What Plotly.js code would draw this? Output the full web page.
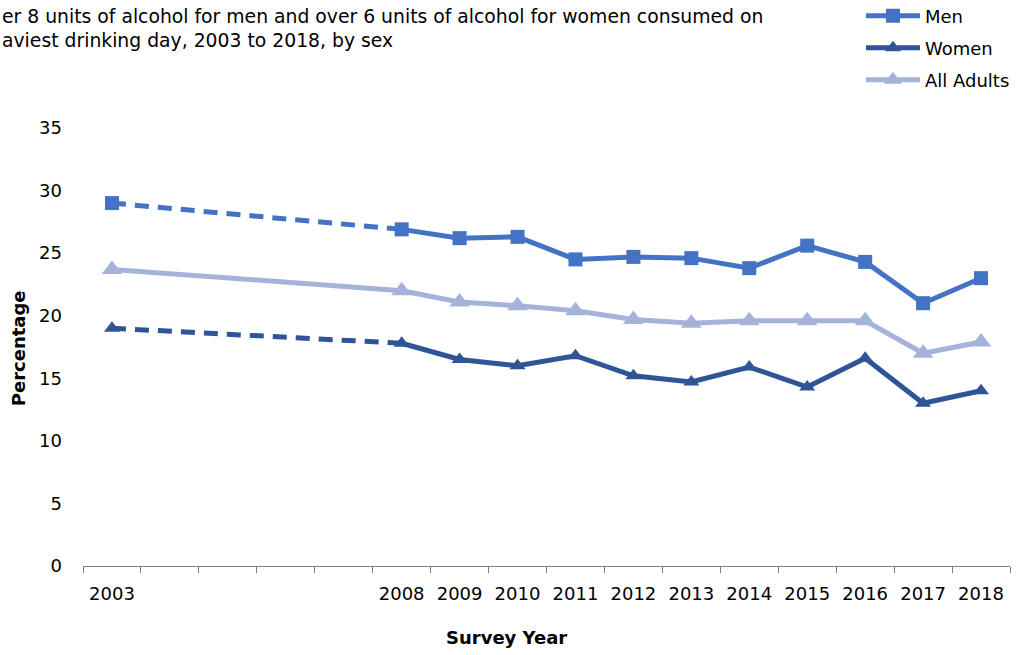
<!DOCTYPE html>
<html>
<head>
<meta charset="utf-8">
<script src="https://cdn.plot.ly/plotly-3.0.1.min.js"></script>
<style>html,body{margin:0;padding:0;background:#fff;}#chart{width:1023px;height:655px;}</style>
</head>
<body>
<div id="chart"></div>
<script>
const years = ['2003','2004','2005','2006','2007','2008','2009','2010','2011','2012','2013','2014','2015','2016','2017','2018'];
const tickLabels = ['2003','','','','','2008','2009','2010','2011','2012','2013','2014','2015','2016','2017','2018'];
const men    = [29.0, null, null, null, null, 26.9, 26.2, 26.3, 24.5, 24.7, 24.6, 23.8, 25.6, 24.3, 21.0, 23.0];
const women  = [19.0, null, null, null, null, 17.8, 16.5, 16.0, 16.8, 15.2, 14.7, 15.9, 14.3, 16.6, 13.0, 14.0];
const adults = [23.7, null, null, null, null, 22.0, 21.1, 20.8, 20.4, 19.7, 19.4, 19.6, 19.6, 19.6, 17.0, 17.9];
const seriesNames = ['Men', 'Women', 'All Adults'];
const titleLines = ['er 8 units of alcohol for men and over 6 units of alcohol for women consumed on', 'aviest drinking day, 2003 to 2018, by sex'];

const cMen = '#4472C4', cWomen = '#2F5597', cAll = '#A5B3DB';
const FONT = 'DejaVu Sans, Verdana, sans-serif';

function part(arr, from, to) {
  const xs = [], ys = [];
  for (let i = from; i <= to; i++) { if (arr[i] !== null) { xs.push(years[i]); ys.push(arr[i]); } }
  return {x: xs, y: ys};
}
const i2008 = years.indexOf('2008');
const last = years.length - 1;

const traces = [];
function addSeries(arr, name, color, symbol, msize, dashedGap, group) {
  if (dashedGap) {
    const d = part(arr, 0, i2008);
    traces.push({x: d.x, y: d.y, type: 'scatter', mode: 'lines', showlegend: false, hoverinfo: 'skip', legendgroup: group,
      line: {color: color, width: 5, dash: '14px,9px'}});
    const f = part(arr, 0, 0);
    traces.push({x: f.x, y: f.y, type: 'scatter', mode: 'markers', showlegend: false, legendgroup: group,
      marker: {symbol: symbol, size: msize, color: color}});
    const s = part(arr, i2008, last);
    traces.push({x: s.x, y: s.y, type: 'scatter', mode: 'lines+markers', name: name, legendgroup: group,
      line: {color: color, width: 5}, marker: {symbol: symbol, size: msize, color: color}});
  } else {
    const s = part(arr, 0, last);
    traces.push({x: s.x, y: s.y, type: 'scatter', mode: 'lines+markers', name: name, legendgroup: group,
      line: {color: color, width: 5}, marker: {symbol: symbol, size: msize, color: color}});
  }
}
addSeries(men, seriesNames[0], cMen, 'square', 14, true, 'g1');
addSeries(women, seriesNames[1], cWomen, 'triangle-up', 14, true, 'g2');
addSeries(adults, seriesNames[2], cAll, 'triangle-up', 18, false, 'g3');

const L = 83, R = 13, T = 127.5, B = 89, W = 1023, H = 655;
const pw = W - L - R, ph = H - T - B;
function px(x) { return (x - L) / pw; }
function py(y) { return (H - B - y) / ph; }

const layout = {
  width: W, height: H,
  margin: {l: L, r: R, t: T, b: B, pad: 0, autoexpand: false},
  paper_bgcolor: '#fff', plot_bgcolor: '#fff',
  font: {family: FONT, size: 18, color: '#000'},
  showlegend: true,
  legend: {x: px(861), xanchor: 'left', y: py(-3), yanchor: 'top', bgcolor: 'rgba(0,0,0,0)',
    font: {family: FONT, size: 18, color: '#000'}, traceorder: 'grouped', tracegroupgap: 5.5, itemwidth: 54, itemclick: false},
  xaxis: {
    type: 'category', categoryorder: 'array', categoryarray: years,
    tickmode: 'array', tickvals: years, ticktext: tickLabels,
    range: [-0.5, years.length - 0.5],
    tickson: 'boundaries', ticks: 'outside', ticklen: 6, tickcolor: '#808080', tickwidth: 1,
    showline: true, linecolor: '#808080', linewidth: 1, showgrid: false, zeroline: false,
    tickfont: {family: FONT, size: 18, color: '#000'}, ticklabelstandoff: 11, fixedrange: true
  },
  yaxis: {
    range: [0, 35], tickvals: [0, 5, 10, 15, 20, 25, 30, 35],
    showline: false, showgrid: false, zeroline: false, ticks: '',
    tickfont: {family: FONT, size: 18, color: '#000'}, ticklabelstandoff: 20, fixedrange: true
  },
  annotations: [
    {text: titleLines[0], xref: 'paper', yref: 'paper', x: px(0), y: py(16), xanchor: 'left', yanchor: 'middle', showarrow: false,
      font: {family: FONT, size: 18.8, color: '#000'}},
    {text: titleLines[1], xref: 'paper', yref: 'paper', x: px(0), y: py(40), xanchor: 'left', yanchor: 'middle', showarrow: false,
      font: {family: FONT, size: 18.8, color: '#000'}},
    {text: '<b>Survey Year</b>', xref: 'paper', yref: 'paper', x: px(506), y: py(638), xanchor: 'center', yanchor: 'middle', showarrow: false,
      font: {family: FONT, size: 18, color: '#000'}},
    {text: '<b>Percentage</b>', xref: 'paper', yref: 'paper', x: px(18), y: py(348), xanchor: 'center', yanchor: 'middle', showarrow: false, textangle: -90,
      font: {family: FONT, size: 18, color: '#000'}}
  ]
};

Plotly.newPlot('chart', traces, layout, {displayModeBar: false, staticPlot: true});
</script>
</body>
</html>
